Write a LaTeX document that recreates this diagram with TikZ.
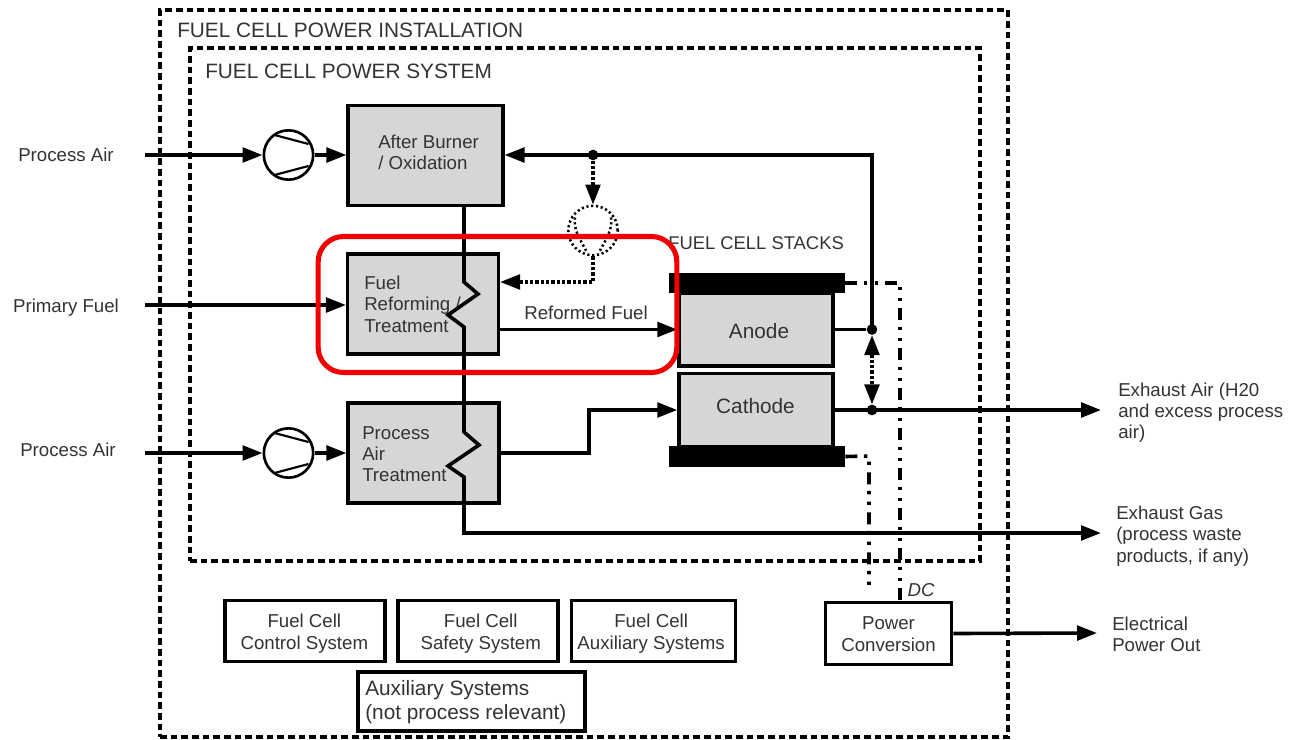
\documentclass[tikz,border=0pt]{standalone}
\usepackage{fontspec}
\setmainfont{Liberation Sans}
\usepackage{xcolor}
\usetikzlibrary{arrows.meta, positioning, calc}
\definecolor{boxgray}{HTML}{D6D6D6}
\definecolor{textgray}{HTML}{333333}
\definecolor{markred}{HTML}{F00000}

\begin{document}
\begin{tikzpicture}[
  x=0.75pt, y=-0.75pt,
  frame/.style={draw, line width=2.6pt, dash pattern=on 5pt off 3pt, inner sep=0pt},
  procbox/.style={rectangle, draw, line width=2.6pt, fill=boxgray, inner sep=0pt,
               minimum width=113pt, minimum height=75pt},
  stackbox/.style={rectangle, draw, line width=2.6pt, fill=boxgray, inner sep=0pt,
               minimum width=115.5pt, minimum height=54.5pt},
  endplate/.style={rectangle, fill=black, inner sep=0pt,
               minimum width=132pt, minimum height=15.5pt},
  auxbox/.style={rectangle, draw, line width=2.4pt, fill=white, inner sep=0pt,
               minimum width=120pt, minimum height=46pt},
  auxtext/.style={text=textgray, font=\fontsize{14}{16.5}\selectfont, align=center, inner sep=0pt},
  compressor/.style={circle, draw, line width=2pt, fill=white, minimum size=37pt, inner sep=0pt},
  label/.style={text=textgray, font=\fontsize{14}{16}\selectfont, align=left, inner sep=0pt},
  heading/.style={text=textgray, font=\fontsize{15.6}{18}\selectfont, inner sep=0pt},
  stacklabel/.style={text=textgray, font=\fontsize{15.6}{18}\selectfont, inner sep=0pt},
  flow/.style={-{Stealth[length=15pt, width=11pt, inset=0pt]}, line width=2.7pt, color=black},
  plainflow/.style={line width=2.7pt, color=black},
  bypass/.style={-{Stealth[length=15pt, width=11pt, inset=0pt]}, line width=2.6pt,
               dash pattern=on 2.5pt off 1.5pt},
  power/.style={line width=2.7pt, dash pattern=on 9pt off 5pt on 2.5pt off 5.5pt on 2.5pt off 5.5pt},
  dotted ring/.style={line width=1.9pt, dash pattern=on 1.6pt off 2pt},
  dot/.style={circle, fill=black, minimum size=8pt, inner sep=0pt},
]
\path[use as bounding box, fill=white] (0,0) rectangle (1303,739);

% frames
\node[frame, minimum width=636pt, minimum height=545pt] (install) at (584,373.5) {};
\node[frame, minimum width=592.5pt, minimum height=385pt] (system) at (585,304.5) {};
\node[heading, anchor=west] (installtitle) at (177,30) {FUEL CELL POWER INSTALLATION};
\node[heading, anchor=west] (systemtitle) at (205,71) {FUEL CELL POWER SYSTEM};

% process boxes
\node[procbox, minimum width=116pt] (burner) at (425.5,155.5) {};
\node[procbox] (reform) at (423,304) {};
\node[procbox] (airtreat) at (423.5,453) {};
\node[label, anchor=west] (burnertext) at (378,152.5) {After Burner\\/ Oxidation};
\node[label, anchor=west] (reformtext) at (364,304) {Fuel\\Reforming /\\Treatment};
\node[label, anchor=west] (airtext) at (362,454) {Process\\Air\\Treatment};

% stack
\node[stackbox] (anode) at (756,329.5) {};
\node[stackbox] (cathode) at (756,410) {};
\node[endplate] (topplate) at (757,283) {};
\node[endplate] (botplate) at (757,456.5) {};
\node[stacklabel] (anodetext) at (759,331) {Anode};
\node[stacklabel] (cathodetext) at (755.5,406) {Cathode};
\node[heading, font=\fontsize{13.8}{16}\selectfont, anchor=west] (stacktitle) at (668,243) {FUEL CELL STACKS};

% compressors
\node[compressor] (comptop) at (288.5,155) {};
\node[compressor] (compbot) at (288.5,453) {};
\foreach \c in {comptop, compbot} {
  \draw[line width=1.6pt] ($(\c)+(-14,-20)$) -- ($(\c)+(20,-11)$);
  \draw[line width=1.6pt] ($(\c)+(-14,20)$) -- ($(\c)+(20,11)$);
}
\node[circle, draw, dotted ring, minimum size=37pt, inner sep=0pt] (bypasscomp) at (593,230.5) {};
\draw[dotted ring] ($(bypasscomp)+(-18,-13)$) .. controls ($(bypasscomp)+(-20,0)$) and ($(bypasscomp)+(-12,10)$) .. ($(bypasscomp)+(-6,22)$);
\draw[dotted ring] ($(bypasscomp)+(18,-13)$) .. controls ($(bypasscomp)+(20,0)$) and ($(bypasscomp)+(12,10)$) .. ($(bypasscomp)+(6,22)$);

% other boxes
\node[auxbox] (control) at (305,631) {};
\node[auxbox, right=7.4pt of control] (safety) {};
\node[auxbox, minimum width=123pt, right=7.4pt of safety] (auxsys) {};
\node[auxbox, minimum width=170pt, minimum height=44pt, line width=2.6pt] (notrelevant) at (471.5,701.5) {};
\node[auxbox, minimum width=95pt, minimum height=47pt] (converter) at (888.5,633.5) {};
\node[auxtext] (controltext) at ([shift={(-0.5pt,-2pt)}]control.center) {Fuel Cell\\Control System};
\node[auxtext] (safetytext) at ([shift={(2pt,-2pt)}]safety.center) {Fuel Cell\\Safety System};
\node[auxtext] (auxsystext) at ([shift={(-1.5pt,-2pt)}]auxsys.center) {Fuel Cell\\Auxiliary Systems};
\node[auxtext] (convertertext) at ([yshift=-0.8pt]converter.center) {Power\\Conversion};
\node[auxtext, align=left, anchor=west, font=\fontsize{15.6}{18}\selectfont] (notrelevanttext)
  at (365,702.5) {Auxiliary Systems\\(not process relevant)};

% labels
\node[label] (airtop) at (66,155) {Process Air};
\node[label] (fuelin) at (66,307.5) {Primary Fuel};
\node[label] (airbot) at (68,450) {Process Air};
\node[label, anchor=west] (exair) at (1118,412.5) {Exhaust Air (H20\\and excess process\\air)};
\node[label, anchor=west] (exgas) at (1116,536) {Exhaust Gas\\(process waste\\products, if any)};
\node[label, anchor=west] (elec) at (1112,634) {Electrical\\Power Out};
\node[label, font=\fontsize{14}{16}\selectfont\itshape] (dc) at (921,590) {DC};
\node[label, anchor=south] (reformed) at (586,320) {Reformed Fuel};

% free ends and junctions
\coordinate (airtopstart) at (145,155);
\coordinate (fuelstart) at (145,305);
\coordinate (airbotstart) at (145,453);
\coordinate (exairend) at (1101,410);
\coordinate (exgasend) at (1101,533);
\coordinate (elecend) at (1097,633);
\node[dot] (anodejoin) at (872,329.5) {};
\node[dot] (cathjoin) at (872,410) {};
\node[dot] (burnerjoin) at (593,155) {};

% process lines
\draw[flow] (airtopstart) -- (comptop);
\draw[flow] (comptop) -- (burner.west |- comptop);
\draw[flow] (fuelstart) -- (reform.west |- fuelstart);
\draw[flow] (airbotstart) -- (compbot);
\draw[flow] (compbot) -- (airtreat.west |- compbot);
\draw[flow] (reform.east |- anode.west) -- (anode.west);
\draw[flow] (airtreat.east |- compbot) -- (589,453) |- (cathode.west);
\draw[plainflow] (anode.east) -- (anodejoin);
\draw[flow] (anodejoin.center) -- (872,155) -- (burner.east |- 0,155);
\draw[flow] (cathode.east) -- (exairend);

% exhaust through the heat exchangers
\draw[flow, line join=miter] (burner.south -| 464,0) -- (464,282) -- (478,294) -- (448,315) -- (464,327)
  -- (464,432) -- (479,445) -- (448,466) -- (464,477) -- (464,533) -- (exgasend);

% bypass
\draw[bypass] (burnerjoin) -- (bypasscomp);
\draw[bypass] (bypasscomp) -- (593,282) -- (reform.east |- 0,282);
\draw[bypass, {Stealth[length=15pt, width=11pt, inset=0pt]}-{Stealth[length=15pt, width=11pt, inset=0pt]}] (anodejoin) -- (cathjoin);

% DC lines
\draw[power] (topplate.east) -- (900,283) -- (900,602);
\draw[power] (botplate.east) -- (869,456) -- (869,590);
\draw[flow] (converter.east) -- (elecend);

% highlight
\node[rectangle, draw=markred, line width=3.8pt, rounded corners=19pt, inner sep=0pt,
      minimum width=269pt, minimum height=102pt] (highlight) at (497.5,304.5) {};
\end{tikzpicture}
\end{document}
